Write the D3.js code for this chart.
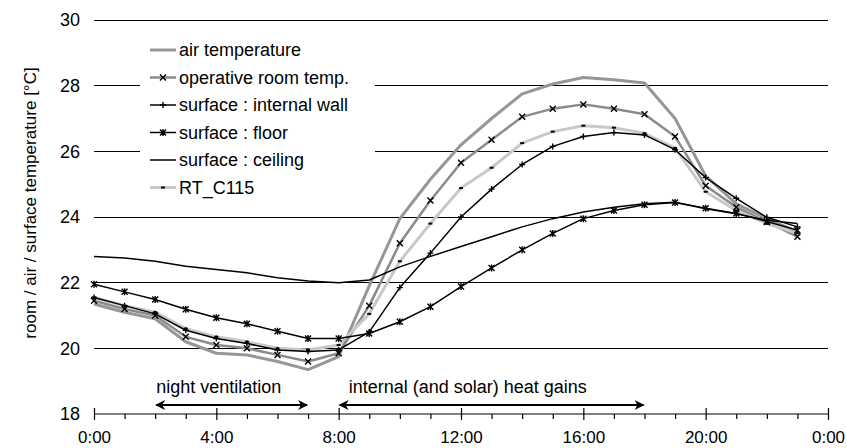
<!DOCTYPE html>
<html>
<head>
<meta charset="utf-8">
<script src="https://cdn.jsdelivr.net/npm/d3@7"></script>
<style>
  html, body { margin: 0; padding: 0; background: #fff; }
  svg { display: block; }
  text { font-family: "Liberation Sans", Arial, sans-serif; fill: #000; }
</style>
</head>
<body>
<svg id="chart" width="847" height="448"></svg>
<script>
// Hourly time stamps (h)
const hours = [0,1,2,3,4,5,6,7,8,9,10,11,12,13,14,15,16,17,18,19,20,21,22,23];

// Temperatures in °C, one value per hour
const airTemp       = [21.35,21.1,20.9,20.2,19.85,19.8,19.6,19.35,19.75,21.9,23.95,25.15,26.2,27.0,27.75,28.05,28.25,28.18,28.08,27.0,25.25,24.4,23.95,23.55];
const operativeTemp = [21.45,21.2,21.0,20.35,20.1,20.0,19.8,19.6,19.85,21.3,23.2,24.5,25.65,26.35,27.05,27.3,27.43,27.3,27.13,26.45,24.95,24.3,23.85,23.4];
const wallTemp      = [21.55,21.3,21.05,20.55,20.3,20.15,19.95,19.9,19.95,20.5,21.85,22.9,24.0,24.85,25.6,26.15,26.45,26.57,26.5,26.05,25.2,24.57,23.99,23.7];
const floorTemp     = [21.95,21.72,21.49,21.19,20.93,20.75,20.52,20.3,20.3,20.45,20.81,21.27,21.88,22.45,23.0,23.5,23.95,24.2,24.37,24.44,24.27,24.11,23.86,23.6];
const ceilingTemp   = [22.8,22.75,22.65,22.5,22.4,22.3,22.15,22.05,22.0,22.08,22.48,22.8,23.1,23.4,23.7,23.95,24.15,24.3,24.4,24.45,24.25,24.1,23.9,23.8];
const rtC115Temp    = [21.55,21.3,21.1,20.6,20.35,20.2,20.0,19.95,20.1,21.05,22.65,23.8,24.88,25.5,26.25,26.6,26.78,26.72,26.55,26.1,24.77,24.2,23.8,23.5];

// Axis ticks
const yTicks = [18,20,22,24,26,28,30];
const xMajorTicks = [0,4,8,12,16,20,24];
const xMinorTicks = [1,2,3,5,6,7,9,10,11,13,14,15,17,18,19,21,22,23];

// Annotated periods [start h, end h]
const nightVentilation = [2, 7];
const heatGains = [8, 18];

const FONT = '"Liberation Sans", Arial, sans-serif';
const TEXT_SIZE = "18px";
const svg = d3.select("#chart");
const x = d3.scaleLinear().domain([0, 24]).range([94, 828]);
const y = d3.scaleLinear().domain([18, 30]).range([414, 20]);

// Horizontal gridlines
svg.append("g").selectAll("line")
  .data(yTicks.filter(t => t > 18))
  .join("line")
  .attr("x1", x(0)).attr("x2", x(24))
  .attr("y1", d => y(d)).attr("y2", d => y(d))
  .attr("stroke", "#000").attr("stroke-width", 1)
  .attr("shape-rendering", "crispEdges");

// Y axis labels
const yAxis = svg.append("g")
  .attr("transform", `translate(${x(0)},0)`)
  .call(d3.axisLeft(y).tickValues(yTicks).tickSize(0).tickPadding(14));
yAxis.select(".domain").remove();
yAxis.selectAll("text").style("font-size", TEXT_SIZE).style("font-family", FONT);

// X axis: major ticks crossing the line, minor ticks below
const xAxis = svg.append("g")
  .attr("transform", `translate(0,${y(18)})`)
  .call(d3.axisBottom(x).tickValues(xMajorTicks).tickSize(6).tickPadding(11)
    .tickFormat(d => (d % 24) + ":00"));
xAxis.select(".domain").attr("d", `M${x(0)},0H${x(24)}`).attr("stroke-width", 1.2);
xAxis.selectAll(".tick line").attr("y1", -6).attr("y2", 6).attr("stroke-width", 1.2);
xAxis.selectAll("text").style("font-size", "17px").style("font-family", FONT);

const xMinor = svg.append("g")
  .attr("transform", `translate(0,${y(18)})`)
  .call(d3.axisBottom(x).tickValues(xMinorTicks).tickSize(5).tickFormat(""));
xMinor.select(".domain").remove();
xMinor.selectAll(".tick line").attr("stroke-width", 1.2);

// Series definitions
const series = [
  { name: "air temperature",         values: airTemp,       color: "#969696", width: 3,   marker: null },
  { name: "operative room temp.",    values: operativeTemp, color: "#8a8a8a", width: 2.5, marker: "x" },
  { name: "surface : internal wall", values: wallTemp,      color: "#000",    width: 1.5, marker: "plus" },
  { name: "surface : floor",         values: floorTemp,     color: "#000",    width: 1.5, marker: "star" },
  { name: "surface : ceiling",       values: ceilingTemp,   color: "#000",    width: 1.5, marker: null },
  { name: "RT_C115",                 values: rtC115Temp,    color: "#c8c8c8", width: 3,   marker: "dash" }
];

const drawOrder = [0, 1, 5, 2, 3, 4];

function markerPath(type, s) {
  if (type === "x") return `M${-s},${-s}L${s},${s}M${-s},${s}L${s},${-s}`;
  if (type === "plus") return `M${-s},0L${s},0M0,${-s}L0,${s}`;
  if (type === "star") return `M${-s},${-s}L${s},${s}M${-s},${s}L${s},${-s}M0,${-s - 0.5}L0,${s + 0.5}`;
  if (type === "dash") return `M${-2},0L${2},0`;
  return "";
}

const line = d3.line()
  .x((d, i) => x(hours[i]))
  .y(d => y(d));

const plot = svg.append("g");
drawOrder.forEach(k => {
  const s = series[k];
  plot.append("path")
    .datum(s.values)
    .attr("d", line)
    .attr("fill", "none")
    .attr("stroke", s.color)
    .attr("stroke-width", s.width)
    .attr("stroke-linejoin", "round");
});
drawOrder.forEach(k => {
  const s = series[k];
  if (!s.marker) return;
  plot.append("g").selectAll("path")
    .data(s.values)
    .join("path")
    .attr("transform", (d, i) => `translate(${x(hours[i])},${y(d)})`)
    .attr("d", markerPath(s.marker, 3))
    .attr("fill", "none")
    .attr("stroke", "#000")
    .attr("stroke-width", s.marker === "dash" ? 2 : 1.4);
});

// Legend with white background
const legend = svg.append("g");
legend.append("rect")
  .attr("x", 140).attr("y", 30).attr("width", 235).attr("height", 172)
  .attr("fill", "#fff");
const rowY = i => 50 + i * 27.5;
series.forEach((s, i) => {
  const g = legend.append("g").attr("transform", `translate(0,${rowY(i)})`);
  g.append("line")
    .attr("x1", 150).attr("x2", 176).attr("y1", 0).attr("y2", 0)
    .attr("stroke", s.color).attr("stroke-width", s.width);
  if (s.marker) {
    g.append("path")
      .attr("transform", "translate(163,0)")
      .attr("d", markerPath(s.marker, 3))
      .attr("fill", "none").attr("stroke", "#000")
      .attr("stroke-width", s.marker === "dash" ? 2 : 1.4);
  }
  g.append("text")
    .attr("x", 179).attr("y", 0).attr("dy", "0.35em")
    .style("font-size", TEXT_SIZE)
    .text(s.name);
});

// Period annotations with double-headed arrows
const defs = svg.append("defs");
defs.append("marker")
  .attr("id", "arrowEnd").attr("viewBox", "0 0 10 10")
  .attr("refX", 9).attr("refY", 5)
  .attr("markerWidth", 5).attr("markerHeight", 5)
  .attr("markerUnits", "strokeWidth")
  .attr("orient", "auto-start-reverse")
  .append("path").attr("d", "M0,0L10,5L0,10L3,5Z").attr("fill", "#000");

const arrowY = 405;
[nightVentilation, heatGains].forEach(span => {
  svg.append("line")
    .attr("x1", x(span[0]) + 1).attr("x2", x(span[1]) - 1)
    .attr("y1", arrowY).attr("y2", arrowY)
    .attr("stroke", "#000").attr("stroke-width", 2)
    .attr("marker-start", "url(#arrowEnd)")
    .attr("marker-end", "url(#arrowEnd)");
});

svg.append("text")
  .attr("x", x(nightVentilation[0]) + 1)
  .attr("y", 393)
  .style("font-size", TEXT_SIZE)
  .text("night ventilation");
svg.append("text")
  .attr("x", x(heatGains[0]) + 10)
  .attr("y", 393)
  .style("font-size", TEXT_SIZE)
  .text("internal (and solar) heat gains");

// Y axis title
svg.append("text")
  .attr("transform", "translate(36,203) rotate(-90)")
  .attr("text-anchor", "middle")
  .style("font-size", "17px")
  .text("room / air / surface temperature [°C]");
</script>
</body>
</html>
